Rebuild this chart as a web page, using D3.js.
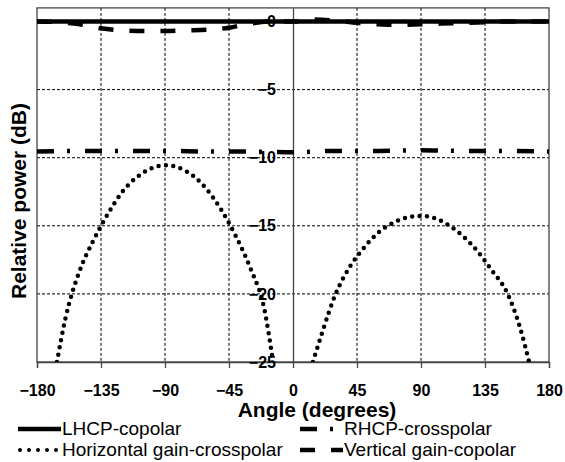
<!DOCTYPE html>
<html>
<head>
<meta charset="utf-8">
<script src="https://cdn.jsdelivr.net/npm/d3@7"></script>
<style>
  body { margin: 0; background: #fff; }
  text { font-family: "Liberation Sans", Arial, sans-serif; fill: #000; }
</style>
</head>
<body>
<div id="chart"></div>
<script>
// data
var xTicks = [-180, -135, -90, -45, 0, 45, 90, 135, 180]
var yTicks = [0, -5, -10, -15, -20, -25]

var topAngles = [-180, -165, -150, -135, -120, -105, -90, -75, -60, -45, -30, -15, 0, 15, 30, 45, 60, 75, 90, 105, 120, 135, 150, 165, 180]
var lhcp = [0, 0, 0, 0, 0, 0, 0, 0, 0, 0, 0, 0, 0, 0, 0, 0, 0, 0, 0, 0, 0, 0, 0, 0, 0]
var vertical = [0, -0.05, -0.2, -0.5, -0.65, -0.7, -0.7, -0.65, -0.6, -0.45, -0.15, 0, 0, 0.15, 0.05, -0.1, -0.2, -0.25, -0.2, -0.15, -0.1, -0.05, 0, 0, 0]

var rhcpAngles = [-180, -150, -120, -90, -60, -30, 0, 30, 60, 90, 120, 150, 180]
var rhcp = [-9.55, -9.5, -9.5, -9.5, -9.55, -9.55, -9.6, -9.5, -9.5, -9.45, -9.5, -9.5, -9.55]

var horizAngles = [-166, -160, -150, -140, -130, -120, -110, -100, -90, -80, -70, -60, -50, -40, -30, -20, -14,
    0,
    14, 20, 30, 40, 50, 60, 70, 80, 90, 100, 110, 120, 130, 140, 150, 160, 166]
var horiz = [-25, -21.8, -18.3, -16.0, -14.1, -12.5, -11.45, -10.8, -10.55, -10.75, -11.35, -12.4, -13.9, -15.8, -18.1, -21.2, -25,
    null,
    -25, -23.0, -20.0, -18.0, -16.6, -15.5, -14.8, -14.4, -14.27, -14.45, -15.0, -15.8, -16.9, -18.3, -19.8, -22.6, -25]

var legendNames = ["LHCP-copolar", "RHCP-crosspolar", "Horizontal gain-crosspolar", "Vertical gain-copolar"]

var width = 565
var height = 462
var plotL = 37, plotR = 549, plotT = 7.9, plotB = 362

var svg = d3.select("#chart")
    .append("svg")
    .attr("width", width)
    .attr("height", height)

var x = d3.scaleLinear().domain([-180, 180]).range([plotL, plotR])
var y = d3.scaleLinear().domain([-25, 1]).range([plotB, plotT])

svg.append("clipPath").attr("id", "plot")
    .append("rect")
    .attr("x", plotL).attr("y", plotT)
    .attr("width", plotR - plotL).attr("height", plotB - plotT)

// dashed grid
var grid = svg.append("g")
grid.selectAll(".vg")
    .data(xTicks.filter(function(d) { return d != 0 && Math.abs(d) != 180 }))
    .enter().append("line")
    .attr("x1", function(d) { return x(d) }).attr("x2", function(d) { return x(d) })
    .attr("y1", plotT).attr("y2", plotB)
    .attr("stroke", "#000").attr("stroke-width", 1).attr("stroke-dasharray", "3,2")
grid.selectAll(".hg")
    .data(yTicks.filter(function(d) { return d != -25 }))
    .enter().append("line")
    .attr("x1", plotL).attr("x2", plotR)
    .attr("y1", function(d) { return y(d) }).attr("y2", function(d) { return y(d) })
    .attr("stroke", "#000").attr("stroke-width", 1).attr("stroke-dasharray", "3,2")

// frame
svg.append("rect")
    .attr("x", plotL).attr("y", plotT)
    .attr("width", plotR - plotL).attr("height", plotB - plotT)
    .attr("fill", "none").attr("stroke", "#444").attr("stroke-width", 1.3)

// x axis at the bottom
var xAxis = svg.append("g")
    .attr("transform", "translate(0," + plotB + ")")
    .call(d3.axisBottom(x).tickValues(xTicks).tickSize(6).tickPadding(17))
xAxis.select(".domain").attr("stroke", "#444").attr("stroke-width", 1.3)
xAxis.selectAll(".tick line").attr("stroke", "#444").attr("stroke-width", 1.3)
xAxis.selectAll("text").style("font-size", "16px").style("font-weight", "bold")

// y axis through zero
var yAxis = svg.append("g")
    .attr("transform", "translate(" + x(0) + ",0)")
    .call(d3.axisLeft(y).tickValues(yTicks).tickSize(0).tickPadding(17))
yAxis.select(".domain").attr("stroke", "#444").attr("stroke-width", 1.3)
yAxis.selectAll("text").style("font-size", "16px").style("font-weight", "bold")

// axis titles
svg.append("text")
    .attr("x", 317).attr("y", 417)
    .attr("text-anchor", "middle")
    .style("font-size", "21px").style("font-weight", "bold")
    .text("Angle (degrees)")
svg.append("text")
    .attr("transform", "translate(26,201) rotate(-90)")
    .attr("text-anchor", "middle")
    .style("font-size", "21px").style("font-weight", "bold")
    .text("Relative power (dB)")

// series
var styles = [
    { dash: null, cap: "butt" },
    { dash: "17 13 3 15", cap: "butt" },
    { dash: "0 7.4", cap: "round" },
    { dash: "15 16", cap: "butt" }
]

var line = d3.line()
    .defined(function(d) { return d[1] != null })
    .x(function(d) { return x(d[0]) })
    .y(function(d) { return y(d[1]) })
    .curve(d3.curveMonotoneX)

var series = [
    d3.zip(topAngles, lhcp),
    d3.zip(rhcpAngles, rhcp),
    d3.zip(horizAngles, horiz),
    d3.zip(topAngles, vertical)
]

var plot = svg.append("g").attr("clip-path", "url(#plot)")
// draw order: dashed copolar under the solid one
var order = [3, 1, 2, 0]
order.forEach(function(i) {
    plot.append("path")
        .datum(series[i])
        .attr("d", line)
        .attr("fill", "none")
        .attr("stroke", "#000")
        .attr("stroke-width", i == 2 ? 4.5 : 4.5)
        .attr("stroke-linecap", styles[i].cap)
        .attr("stroke-dasharray", styles[i].dash)
})

// legend
var legendX = [18, 300, 18, 300]
var legendY = [429, 429, 450, 450]
var leg = svg.append("g")
legendNames.forEach(function(name, i) {
    leg.append("line")
        .attr("x1", i == 2 ? legendX[i] + 2 : legendX[i]).attr("x2", legendX[i] + 43)
        .attr("y1", legendY[i]).attr("y2", legendY[i])
        .attr("stroke", "#000")
        .attr("stroke-width", i == 2 ? 4 : 4.5)
        .attr("stroke-linecap", styles[i].cap)
        .attr("stroke-dasharray", i == 2 ? "0 9" : styles[i].dash)
    leg.append("text")
        .attr("x", legendX[i] + 44).attr("y", legendY[i] + 6)
        .style("font-size", "19px")
        .text(name)
})
</script>
</body>
</html>
